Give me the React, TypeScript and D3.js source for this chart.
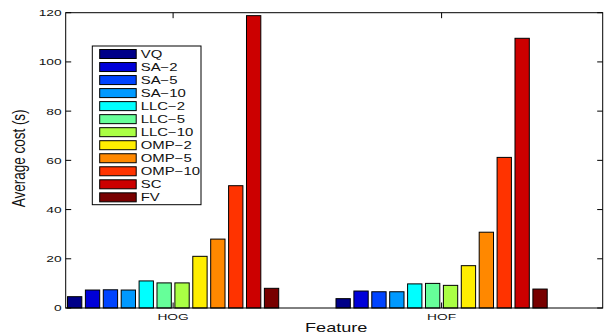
import React from "react";
import * as d3 from "d3";

const features = ["HOG", "HOF"];
const methods = ["VQ", "SA\u22122", "SA\u22125", "SA\u221210", "LLC\u22122", "LLC\u22125", "LLC\u221210", "OMP\u22122", "OMP\u22125", "OMP\u221210", "SC", "FV"];
const hogValues = [4.6, 7.3, 7.4, 7.3, 11.0, 10.2, 10.2, 21.0, 28.0, 49.7, 118.8, 8.0];
const hofValues = [3.8, 6.9, 6.6, 6.6, 9.8, 10.0, 9.2, 17.2, 30.8, 61.2, 109.6, 7.7];
const colors = ["#000088", "#0000D8", "#0044FF", "#0099FF", "#00FFFF", "#66FF99", "#AAFF44", "#FFEE00", "#FF8800", "#FF3300", "#CC0000", "#780000"];
const yTicks = [0, 20, 40, 60, 80, 100, 120];

const W = 608, H = 336;
const L = 65.7, R = 602.7, T = 12.7, B = 308;
const SX = 1.45;
const FONT = "'Liberation Sans', Arial, Helvetica, sans-serif";

export default function App() {
  const x = d3.scaleLinear().domain([0.6, 2.6]).range([L, R]);
  const y = d3.scaleLinear().domain([0, 120]).range([B, T]);
  const series = [hogValues, hofValues];
  const slot = 0.8 / methods.length;
  const bw = x(slot * 0.8) - x(0);

  const bars: any[] = [];
  features.forEach((f, gi) => {
    const vals = series[gi];
    vals.forEach((v, i) => {
      const cx = x(gi + 1 + (i - (methods.length - 1) / 2) * slot);
      bars.push(
        <rect key={f + i} x={cx - bw / 2} y={y(v)} width={bw} height={y(0) - y(v)}
          fill={colors[i]} stroke="#000" strokeWidth={1} />
      );
    });
  });

  const txt = (s: string, tx: number, ty: number, size: number, anchor: string, key?: string, extra = "") => (
    <text key={key} transform={`translate(${tx},${ty}) scale(${SX},1)${extra}`} textAnchor={anchor}
      fontSize={size} fontFamily={FONT} fill="#111">{s}</text>
  );

  const legX = 92.3, legY = 46, legW = 108.7, rowH = 13.03;
  const legH = 158.7;

  return (
    <svg width={W} height={H} style={{ position: "absolute", left: 0, top: 0, background: "#fff" }}>
      <rect x={0} y={0} width={W} height={H} fill="#fff" />
      {bars}
      {/* frame */}
      <rect x={L} y={T} width={R - L} height={B - T} fill="none" stroke="#000" strokeWidth={1} />
      {/* y ticks */}
      {yTicks.map((t) => (
        <g key={"yt" + t}>
          <line x1={L} x2={L + 5.5} y1={y(t)} y2={y(t)} stroke="#000" />
          <line x1={R} x2={R - 5.5} y1={y(t)} y2={y(t)} stroke="#000" />
          {txt(String(t), L - 4, y(t) + 3.4, 9.5, "end", "yl" + t)}
        </g>
      ))}
      {/* x ticks */}
      {features.map((f, gi) => (
        <g key={"xt" + f}>
          <line x1={x(gi + 1)} x2={x(gi + 1)} y1={B} y2={B - 5.5} stroke="#000" />
          <line x1={x(gi + 1)} x2={x(gi + 1)} y1={T} y2={T + 5.5} stroke="#000" />
          {txt(f, x(gi + 1), 320, 9.5, "middle", "xl" + f)}
        </g>
      ))}
      {txt("Feature", (L + R) / 2 + 2, 331.5, 12.5, "middle", "xlab")}
      <text transform={`translate(25,${(T + B) / 2 - 2}) scale(1.35,1) rotate(-90)`} textAnchor="middle"
        fontSize={13.5} fontFamily={FONT} fill="#111">Average cost (s)</text>
      {/* legend */}
      <rect x={legX} y={legY} width={legW} height={legH} fill="#fff" stroke="#000" strokeWidth={1} />
      {methods.map((m, i) => {
        const cy = legY + 8 + i * rowH;
        return (
          <g key={"lg" + i}>
            <rect x={99.7} y={cy - 4.5} width={36.5} height={9} fill={colors[i]} stroke="#000" strokeWidth={1} />
            {txt(m, 140.7, cy + 3.8, 10.3, "start")}
          </g>
        );
      })}
    </svg>
  );
}
